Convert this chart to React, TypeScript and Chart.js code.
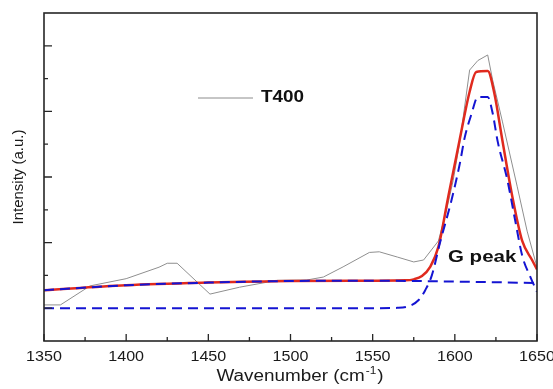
import React, { useEffect, useRef } from "react";
import { Chart, registerables } from "chart.js";

Chart.register(...registerables);

// ---- data ----
const rawWavenumber = [1350, 1360, 1378, 1400, 1420, 1425, 1431, 1451, 1469, 1492, 1510, 1520, 1532, 1548, 1554, 1565, 1575, 1581, 1590, 1595, 1599, 1603, 1609, 1614, 1620, 1623, 1629, 1638, 1644, 1650];
const rawIntensity = [1.1, 1.1, 1.68, 1.9, 2.25, 2.37, 2.37, 1.43, 1.64, 1.85, 1.86, 1.95, 2.26, 2.7, 2.72, 2.56, 2.41, 2.47, 3.05, 4.0, 4.9, 6.05, 8.26, 8.55, 8.72, 7.96, 6.68, 4.7, 3.35, 2.25];

const fitWavenumber = [1350, 1400, 1450, 1500, 1550, 1570, 1575, 1580, 1585, 1590, 1596, 1603, 1609, 1613, 1620, 1624, 1629, 1635, 1641, 1647, 1650];
const fitIntensity = [1.55, 1.7, 1.78, 1.83, 1.84, 1.85, 1.88, 1.98, 2.26, 2.87, 4.4, 6.15, 7.6, 8.2, 8.23, 7.56, 6.1, 4.4, 3.05, 2.47, 2.18];

const baseWavenumber = [1350, 1400, 1450, 1500, 1550, 1600, 1650];
const baseIntensity = [1.55, 1.7, 1.78, 1.83, 1.84, 1.81, 1.77];

const gWavenumber = [1350, 1400, 1450, 1500, 1550, 1565, 1572, 1578, 1582, 1586, 1591, 1598, 1603, 1606, 1610, 1614, 1620, 1623, 1626, 1632, 1637, 1641, 1646, 1650];
const gIntensity = [1.0, 1.0, 1.0, 1.0, 1.0, 1.01, 1.06, 1.25, 1.55, 2.0, 3.0, 4.3, 5.4, 6.2, 6.9, 7.44, 7.44, 6.95, 6.1, 4.9, 3.6, 2.6, 1.95, 1.5];

const xTickValues = [1350, 1400, 1450, 1500, 1550, 1600, 1650];
const xMinorTicks = [1375, 1425, 1475, 1525, 1575, 1625];
const yMajorTicks = [1, 3, 5, 7, 9];
const yMinorTicks = [2, 4, 6, 8];

const legendLabel = "T400";
const peakLabel = "G peak";

const toPoints = (xs: number[], ys: number[]) => xs.map((x, i) => ({ x, y: ys[i] }));

function drawStretched(ctx: CanvasRenderingContext2D, text: string, x: number, y: number, font: string, align: CanvasTextAlign, sx: number) {
  ctx.save();
  ctx.font = font;
  ctx.textBaseline = "middle";
  ctx.textAlign = align;
  ctx.translate(x, y);
  ctx.scale(sx, 1);
  ctx.fillText(text, 0, 0);
  ctx.restore();
}

const decorPlugin = {
  id: "decor",
  afterDraw(chart: any) {
    const ctx: CanvasRenderingContext2D = chart.ctx;
    const { left, right, top, bottom } = chart.chartArea;
    const xs = chart.scales.x;
    const ys = chart.scales.y;
    ctx.save();
    // frame
    ctx.strokeStyle = "#262626";
    ctx.lineWidth = 1.6;
    ctx.strokeRect(left, top, right - left, bottom - top);
    // x ticks (inward)
    ctx.lineWidth = 1.3;
    ctx.beginPath();
    xTickValues.forEach((v) => {
      const px = xs.getPixelForValue(v);
      ctx.moveTo(px, bottom);
      ctx.lineTo(px, bottom - 7);
    });
    xMinorTicks.forEach((v) => {
      const px = xs.getPixelForValue(v);
      ctx.moveTo(px, bottom);
      ctx.lineTo(px, bottom - 4);
    });
    yMajorTicks.forEach((v) => {
      const py = ys.getPixelForValue(v);
      ctx.moveTo(left, py);
      ctx.lineTo(left + 8, py);
    });
    yMinorTicks.forEach((v) => {
      const py = ys.getPixelForValue(v);
      ctx.moveTo(left, py);
      ctx.lineTo(left + 4, py);
    });
    ctx.stroke();

    // x tick labels
    ctx.fillStyle = "#1a1a1a";
    xTickValues.forEach((v) => {
      const px = xs.getPixelForValue(v);
      drawStretched(ctx, String(v), px, 357, "14px 'Liberation Sans', Arial, sans-serif", "center", 1.15);
    });

    // x title
    const titleFont = "16px 'Liberation Sans', Arial, sans-serif";
    ctx.font = titleFont;
    const sx = 1.18;
    const mainText = "Wavenumber (cm";
    const w1 = ctx.measureText(mainText).width * sx;
    ctx.font = "10px 'Liberation Sans', Arial, sans-serif";
    const supText = "-1";
    const w2 = ctx.measureText(supText).width * sx;
    ctx.font = titleFont;
    const w3 = ctx.measureText(")").width * sx;
    const total = w1 + w2 + 2 + w3;
    const startX = 300 - total / 2;
    drawStretched(ctx, mainText, startX, 377, titleFont, "left", sx);
    drawStretched(ctx, supText, startX + w1 + 1, 371, "10px 'Liberation Sans', Arial, sans-serif", "left", sx);
    drawStretched(ctx, ")", startX + w1 + w2 + 2, 377, titleFont, "left", sx);

    // y title
    ctx.save();
    ctx.translate(19, 177);
    ctx.rotate(-Math.PI / 2);
    ctx.font = "15px 'Liberation Sans', Arial, sans-serif";
    ctx.textAlign = "center";
    ctx.textBaseline = "middle";
    ctx.fillText("Intensity (a.u.)", 0, 0);
    ctx.restore();

    // legend
    ctx.strokeStyle = "#8c8c8c";
    ctx.lineWidth = 1;
    ctx.beginPath();
    ctx.moveTo(198, 98);
    ctx.lineTo(253, 98);
    ctx.stroke();
    ctx.fillStyle = "#111";
    drawStretched(ctx, legendLabel, 261, 98, "bold 16px 'Liberation Sans', Arial, sans-serif", "left", 1.18);

    // G peak label
    drawStretched(ctx, peakLabel, 448, 258, "bold 16px 'Liberation Sans', Arial, sans-serif", "left", 1.28);
    ctx.restore();
  },
};

export default function App() {
  const canvasRef = useRef<HTMLCanvasElement | null>(null);

  useEffect(() => {
    document.body.style.margin = "0";
    const canvas = canvasRef.current;
    if (!canvas) return;
    const chart = new Chart(canvas, {
      type: "line",
      data: {
        datasets: [
          {
            label: "baseline",
            data: toPoints(baseWavenumber, baseIntensity),
            borderColor: "#1414d2",
            borderWidth: 2,
            borderDash: [10, 6],
            pointRadius: 0,
            fill: false,
            cubicInterpolationMode: "monotone",
          },
          {
            label: "G peak",
            data: toPoints(gWavenumber, gIntensity),
            borderColor: "#1414d2",
            borderWidth: 2,
            borderDash: [10, 6],
            pointRadius: 0,
            fill: false,
            cubicInterpolationMode: "monotone",
          },
          {
            label: "fit",
            data: toPoints(fitWavenumber, fitIntensity),
            borderColor: "#e02a1e",
            borderWidth: 2.5,
            pointRadius: 0,
            fill: false,
            cubicInterpolationMode: "monotone",
          },
          {
            label: legendLabel,
            data: toPoints(rawWavenumber, rawIntensity),
            borderColor: "#8f8f8f",
            borderWidth: 1,
            pointRadius: 0,
            fill: false,
            tension: 0,
          },
        ],
      },
      options: {
        animation: false,
        responsive: true,
        maintainAspectRatio: false,
        layout: { padding: { left: 0, top: 13, right: 16, bottom: 0 } },
        plugins: { legend: { display: false }, tooltip: { enabled: false } },
        scales: {
          x: {
            type: "linear",
            min: 1350,
            max: 1650,
            ticks: { display: false },
            grid: { display: false },
            border: { display: false },
            afterFit: (s: any) => {
              s.height = 48;
              s.paddingLeft = 0;
              s.paddingRight = 0;
            },
          },
          y: {
            type: "linear",
            min: 0,
            max: 10,
            ticks: { display: false },
            grid: { display: false },
            border: { display: false },
            afterFit: (s: any) => {
              s.width = 44;
              s.paddingTop = 0;
              s.paddingBottom = 0;
            },
          },
        },
      },
      plugins: [decorPlugin],
    });
    return () => chart.destroy();
  }, []);

  return (
    <div style={{ position: "relative", width: "553px", height: "389px", background: "#fff" }}>
      <canvas ref={canvasRef} />
    </div>
  );
}
